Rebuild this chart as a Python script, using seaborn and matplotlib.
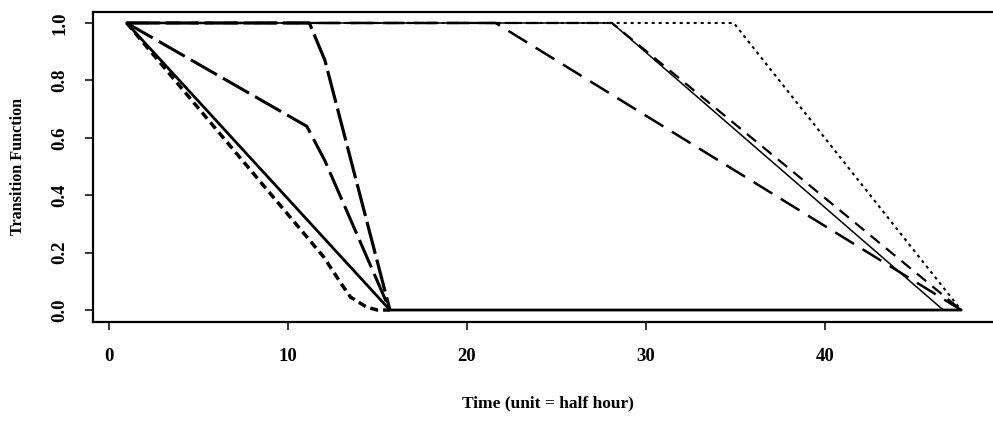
import matplotlib
matplotlib.use("Agg")
import matplotlib.pyplot as plt
import seaborn as sns
import pandas as pd

# ---- data (breakpoints) ----
time_a = [1, 15.7, 47.6]
val_a = [1.0, 0.0, 0.0]

time_b = [1, 12, 13, 13.5, 14.4, 15, 15.7]
val_b = [1.0, 0.185, 0.09, 0.045, 0.01, 0.0, 0.0]

time_c = [1, 11.06, 12.07, 15.7]
val_c = [1.0, 0.64, 0.52, 0.0]

time_d = [1, 11.2, 12.07, 15.7]
val_d = [1.0, 1.0, 0.87, 0.0]

time_e = [1, 21.6, 47.6]
val_e = [1.0, 1.0, 0.0]

time_f = [1, 28.1, 46.6, 47.6]
val_f = [1.0, 1.0, 0.0, 0.0]

time_g = [1, 28.1, 47.6]
val_g = [1.0, 1.0, 0.0]

time_h = [1, 34.9, 47.6]
val_h = [1.0, 1.0, 0.0]

x_ticks = [0, 10, 20, 30, 40]
y_ticks = [0.0, 0.2, 0.4, 0.6, 0.8, 1.0]
y_tick_labels = ["0.0", "0.2", "0.4", "0.6", "0.8", "1.0"]
x_label = "Time (unit = half hour)"
y_label = "Transition Function"

sns.set_theme(style="white")
plt.rcParams["font.family"] = ["Liberation Serif", "DejaVu Serif"]

fig = plt.figure(figsize=(9.93, 4.22), dpi=100)
ax = fig.add_axes([93 / 993, (422 - 321.5) / 422, 909 / 993, 310 / 422])


def pat(px_list, lw):
    return (0, tuple(p * 0.72 / lw for p in px_list))


series = [
    (time_a, val_a, 2.0, "-"),
    (time_b, val_b, 2.5, pat([8, 5], 2.5)),
    (time_c, val_c, 2.2, pat([30, 7], 2.2)),
    (time_d, val_d, 2.3, pat([33, 6], 2.3)),
    (time_e, val_e, 1.8, pat([22, 10], 1.8)),
    (time_f, val_f, 1.1, "-"),
    (time_g, val_g, 1.6, pat([12, 8], 1.6)),
    (time_h, val_h, 1.5, pat([3, 4], 1.5)),
]

for t, v, lw, ls in series:
    df = pd.DataFrame({"t": t, "v": v})
    sns.lineplot(data=df, x="t", y="v", ax=ax, color="black", linewidth=lw,
                 linestyle=ls, estimator=None, sort=False)

ax.set_xlim(-0.88, 49.88)
ax.set_ylim(-0.04, 1.04)
ax.set_xticks(x_ticks)
ax.set_xticklabels([str(x) for x in x_ticks])
ax.set_yticks(y_ticks)
ax.set_yticklabels(y_tick_labels, rotation=90, va="center")

for s in ax.spines.values():
    s.set_color("black")
    s.set_linewidth(1.6)
ax.spines["right"].set_visible(False)

ax.tick_params(axis="both", which="major", direction="out", length=6, width=1.1,
               color="black", labelsize=13.5, labelcolor="black",
               bottom=True, left=True)
ax.tick_params(axis="x", pad=13)
ax.tick_params(axis="y", pad=12)
for lab in ax.get_xticklabels() + ax.get_yticklabels():
    lab.set_fontweight("bold")

ax.set_xlabel(x_label, fontsize=12.5, fontweight="bold", labelpad=22, color="black")
ax.set_ylabel(y_label, fontsize=11.6, fontweight="bold", labelpad=18, color="black")
ax.grid(False)

fig.savefig("out.png", dpi=100)
